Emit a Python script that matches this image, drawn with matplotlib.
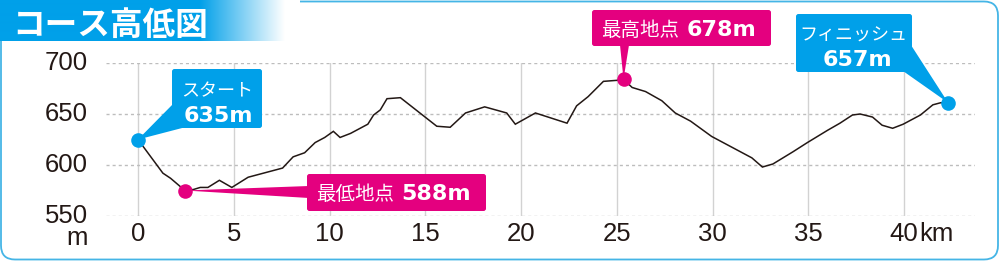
import matplotlib
matplotlib.use("Agg")
import matplotlib.pyplot as plt
import matplotlib.transforms as mtransforms
import numpy as np
from matplotlib.patches import FancyBboxPatch, Polygon

# ---------------- data ----------------
distance_km = [0.0, 1.3, 1.7, 2.45, 2.9, 3.25, 3.65, 4.25, 4.9, 5.75, 6.55, 7.55,
               8.1, 8.7, 9.25, 9.75, 10.2, 10.55, 11.1, 12.0, 12.3, 12.65, 13.0,
               13.7, 15.6, 16.3, 17.1, 18.1, 19.25, 19.7, 20.75, 22.4, 22.9, 23.5,
               24.3, 25.0, 25.35, 25.8, 26.5, 27.35, 28.05, 28.85, 29.95, 32.05,
               32.6, 33.15, 34.2, 34.95, 36.0, 36.65, 37.3, 37.7, 38.35, 38.85,
               39.4, 39.95, 40.85, 41.5, 41.9, 42.3]
elevation_m = [625, 592, 587, 575, 576, 578, 578, 585, 578, 588, 592, 597,
               608, 612, 622, 627, 633, 627, 631, 640, 649, 654, 665,
               666, 638, 637, 651, 657, 651, 640, 651, 641, 658, 667,
               682, 683, 684, 676, 672, 663, 651, 643, 628, 607,
               598, 601, 613, 622, 634, 641, 649, 650, 647, 639,
               636, 640, 649, 659, 661, 661]

x_ticks = [0, 5, 10, 15, 20, 25, 30, 35, 40]
x_tick_labels = ["0", "5", "10", "15", "20", "25", "30", "35", "40"]
x_unit = "km"
y_ticks = [550, 600, 650, 700]
y_tick_labels = ["550", "600", "650", "700"]
y_unit = "m"
title = "コース高低図"

start_label, start_value = "スタート", "635m"
finish_label, finish_value = "フィニッシュ", "657m"
low_label, low_value = "最低地点", "588m"
high_label, high_value = "最高地点", "678m"

# ---------------- style ----------------
BLUE = "#00a0e9"
MAGENTA = "#e4007f"
INK = "#231815"
BORDER = "#45b5e6"
W, H = 1000, 262

cjk = ["Noto Sans CJK JP", "DejaVu Sans"]
tickfont = "Liberation Sans"
numfont = "DejaVu Sans"
NUMSIZE = 16

fig = plt.figure(figsize=(W / 100, H / 100), dpi=100)
fig.patch.set_facecolor("white")

# main axes: pixel box x 106..975, y 63..216
ax = fig.add_axes([106 / W, (H - 216) / H, (975 - 106) / W, (216 - 63) / H])
ax.set_xlim(-1.67, 43.7)
ax.set_ylim(550, 700)
for s in ax.spines.values():
    s.set_visible(False)
ax.set_xticks(x_ticks)
ax.set_xticklabels(x_tick_labels)
ax.set_yticks(y_ticks)
ax.set_yticklabels(y_tick_labels)
ax.tick_params(axis="both", length=0, labelcolor=INK)
ax.tick_params(axis="y", pad=13)
ax.tick_params(axis="x", pad=4.5)
for lab in ax.get_xticklabels() + ax.get_yticklabels():
    lab.set_fontfamily(tickfont)
    lab.set_fontsize(18.5)
shift_up = mtransforms.ScaledTranslation(0, 1.5 / 72, fig.dpi_scale_trans)
for lab in ax.get_yticklabels():
    lab.set_transform(lab.get_transform() + shift_up)

for xv in x_ticks:
    ax.axvline(xv, color="#d2d2d2", lw=1.0, zorder=1)
for yv in y_ticks:
    ax.axhline(yv, color="#bdbdbd", lw=1.0, ls=(0, (2.2, 2.2)), zorder=1)

ax.plot(distance_km, elevation_m, color=INK, lw=1.1, zorder=3, solid_joinstyle="miter")

i_start = 0
i_finish = len(distance_km) - 1
i_low = int(np.argmin(elevation_m))
i_high = int(np.argmax(elevation_m))
dots = [(i_start, BLUE), (i_low, MAGENTA), (i_high, MAGENTA), (i_finish, BLUE)]
for i, c in dots:
    ax.plot(distance_km[i], elevation_m[i], "o", ms=10.5, color=c, mec="none",
            zorder=6, clip_on=False)

ax.annotate(x_unit, xy=(x_ticks[-1], 0), xycoords=("data", "axes fraction"),
            xytext=(10.6, -4.5), textcoords="offset points", ha="left", va="top",
            fontsize=18.5, family=tickfont, color=INK)

# overlay axes in pixel coordinates (origin top-left)
ov = fig.add_axes([0, 0, 1, 1], zorder=10)
ov.set_xlim(0, W)
ov.set_ylim(H, 0)
ov.axis("off")
ov.patch.set_alpha(0)


def px(i):
    d = ax.transData.transform((distance_km[i], elevation_m[i]))
    return ov.transData.inverted().transform(d)


# frame
ov.add_patch(FancyBboxPatch((1, 1.5), W - 3, H - 4, boxstyle="round,pad=0,rounding_size=14",
                            fc="none", ec=BORDER, lw=1.3, zorder=1))

# title band with gradient
grad = np.ones((2, 300, 3))
base = np.array(matplotlib.colors.to_rgb(BLUE))
xs = np.linspace(0, 300, 300)
t = np.clip((xs - 200) / 85.0, 0, 1)
for k in range(3):
    grad[:, :, k] = base[k] * (1 - t) + 1.0 * t
ov.imshow(grad, extent=(0, 300, 41, 0), aspect="auto", zorder=2, interpolation="bilinear")
ov.text(12, 21.5, title, color="white", fontsize=23.5, fontweight="bold", family=cjk,
        ha="left", va="center_baseline", zorder=3)


def box(x0, y0, x1, y1, color):
    ov.add_patch(FancyBboxPatch((x0, y0), x1 - x0, y1 - y0,
                                boxstyle="round,pad=0,rounding_size=2.5",
                                fc=color, ec="none", zorder=4))


# start callout
sx, sy = px(i_start)
ov.add_patch(Polygon([(sx, sy), (174, 103), (186, 127)], closed=True, fc=BLUE, ec="none", zorder=4))
box(172, 69, 262, 128, BLUE)
ov.text(217, 96, start_label, color="white", fontsize=13, family=cjk, ha="center", va="baseline", zorder=5)
ov.text(218, 121.5, start_value, color="white", fontsize=NUMSIZE, family=numfont, fontweight="bold",
        ha="center", va="baseline", zorder=5)

# low callout
lx, ly = px(i_low)
ov.add_patch(Polygon([(lx, ly), (309, 186), (309, 198)], closed=True, fc=MAGENTA, ec="none", zorder=4))
box(307, 174, 486, 211, MAGENTA)
ov.text(316, 200.5, low_label, color="white", fontsize=14, family=cjk, ha="left", va="baseline", zorder=5)
ov.text(401, 200.5, low_value, color="white", fontsize=NUMSIZE, family=numfont, fontweight="bold",
        ha="left", va="baseline", zorder=5)

# high callout
hx, hy = px(i_high)
ov.add_patch(Polygon([(hx, hy), (620, 45), (629, 45)], closed=True, fc=MAGENTA, ec="none", zorder=4))
box(592, 10, 771, 46, MAGENTA)
ov.text(601, 36, high_label, color="white", fontsize=14, family=cjk, ha="left", va="baseline", zorder=5)
ov.text(687, 36, high_value, color="white", fontsize=NUMSIZE, family=numfont, fontweight="bold",
        ha="left", va="baseline", zorder=5)

# finish callout
fx, fy = px(i_finish)
ov.add_patch(Polygon([(fx, fy), (909, 42), (903, 71)], closed=True, fc=BLUE, ec="none", zorder=4))
box(796, 14, 912, 72, BLUE)
ov.text(853, 41, finish_label, color="white", fontsize=13, family=cjk, ha="center", va="baseline", zorder=5)
ov.text(857, 65.5, finish_value, color="white", fontsize=NUMSIZE, family=numfont, fontweight="bold",
        ha="center", va="baseline", zorder=5)

# y unit
ov.text(88, 245, y_unit, color=INK, fontsize=18.5, family=tickfont, ha="right", va="baseline")

fig.savefig("out.png", dpi=100, facecolor="white")
